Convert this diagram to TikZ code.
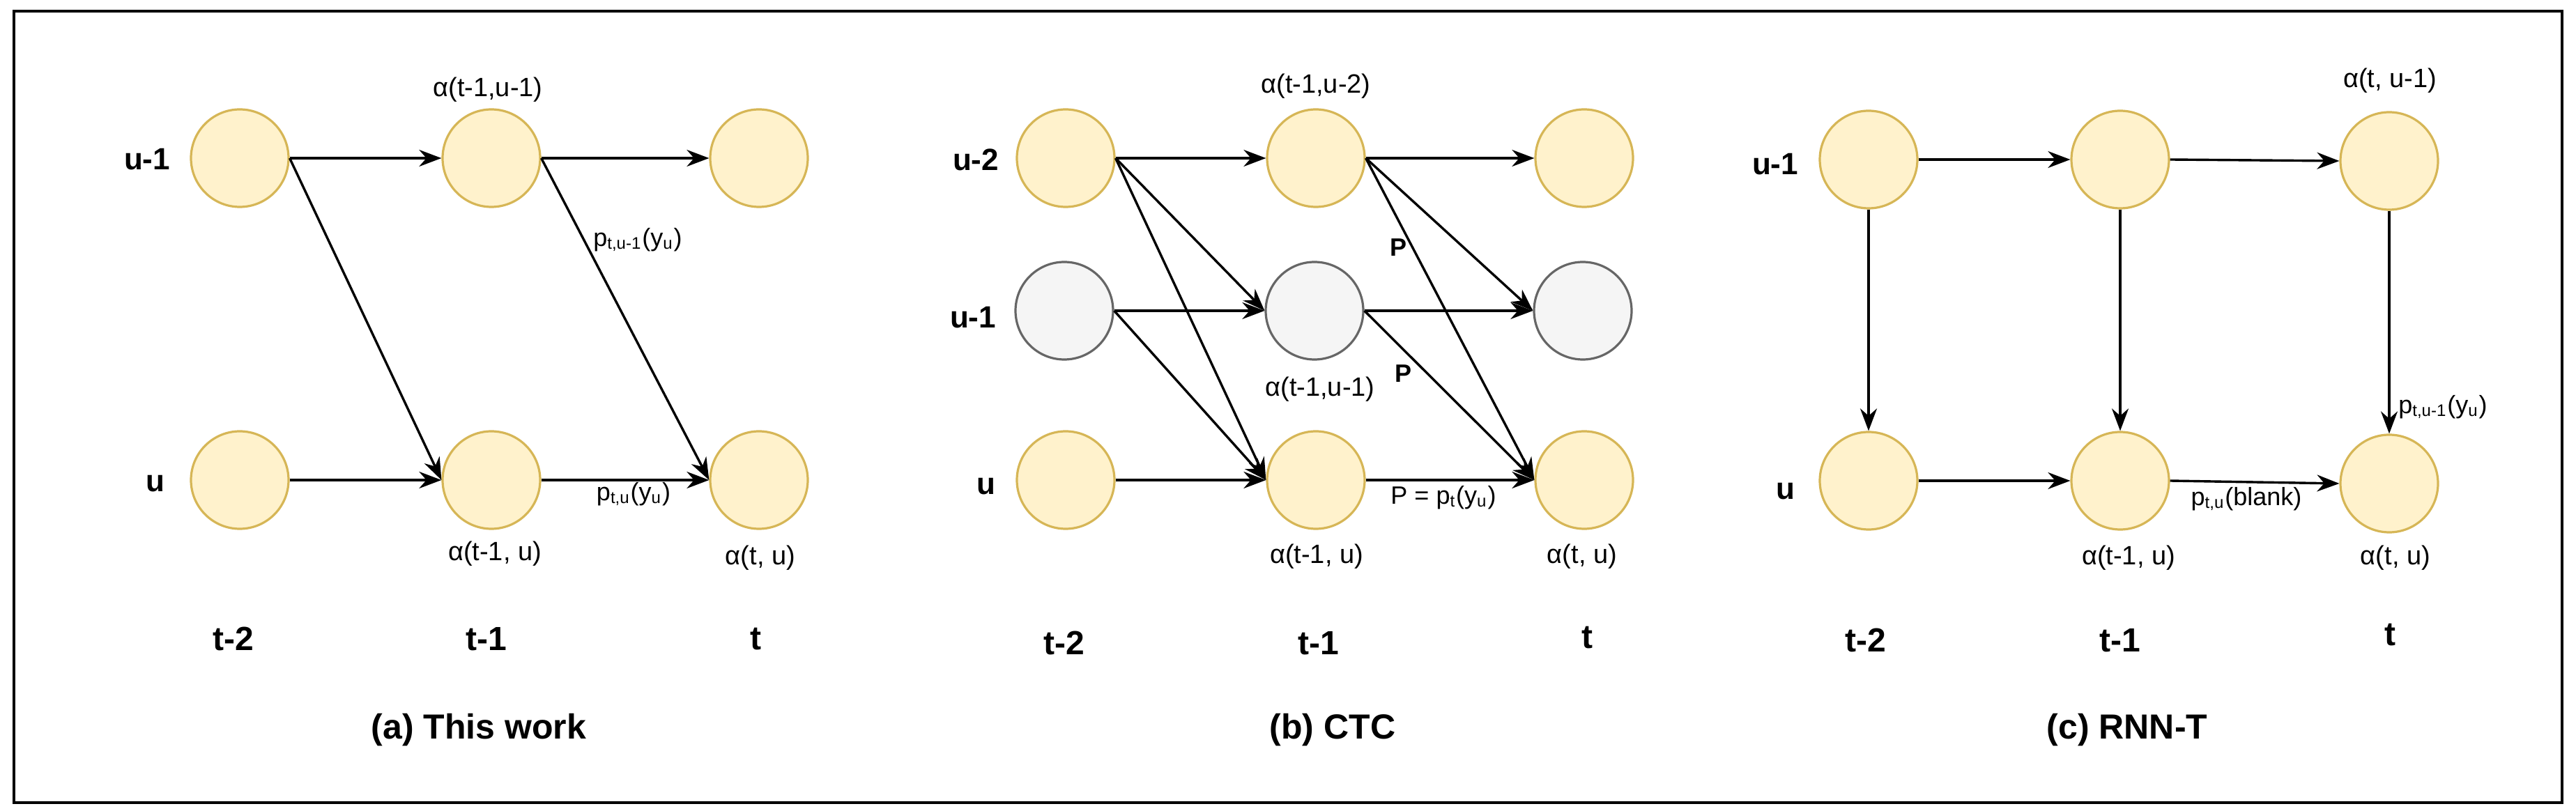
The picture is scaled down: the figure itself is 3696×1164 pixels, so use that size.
\documentclass[tikz,border=0pt]{standalone}
\usepackage{fontspec}
\setmainfont{Liberation Sans}
\usetikzlibrary{arrows.meta}
\definecolor{yfill}{HTML}{FFF2CC}\definecolor{ydraw}{HTML}{D6B656}
\definecolor{gfill}{HTML}{F5F5F5}\definecolor{gdraw}{HTML}{666666}
\begin{document}
\begin{tikzpicture}[x=0.25pt,y=-0.25pt,
 st/.style={circle,minimum size=35pt,inner sep=0,line width=0.8pt,draw=ydraw,fill=yfill},
 gr/.style={circle,minimum size=35pt,inner sep=0,line width=0.8pt,draw=gdraw,fill=gfill},
 ar/.style={-{Stealth[length=8pt,width=6pt]},line width=0.85pt},
 rl/.style={font=\bfseries\fontsize{11}{13}\selectfont},
 tl/.style={font=\bfseries\fontsize{12}{14}\selectfont},
 al/.style={font=\fontsize{9.5}{11}\selectfont},
 el/.style={font=\fontsize{9}{11}\selectfont,inner sep=0},
 ttl/.style={font=\bfseries\fontsize{12.5}{15}\selectfont}]
\useasboundingbox (0,0) rectangle (3696,1164);
\draw[line width=1pt] (20,16) rectangle (3676,1152);
% panel a
\node[st] (a11) at (344,227) {}; \node[st] (a12) at (705,227) {}; \node[st] (a13) at (1089,227) {};
\node[st] (a21) at (344,689) {}; \node[st] (a22) at (705,689) {}; \node[st] (a23) at (1089,689) {};
\draw[ar] (a11.east) -- (a12.west); \draw[ar] (a12.east) -- (a13.west);
\draw[ar] (a21.east) -- (a22.west); \draw[ar] (a22.east) -- (a23.west);
\draw[ar] (a11.east) -- (a22.west); \draw[ar] (a12.east) -- (a23.west);
\node[rl] (ar1) at (211,229) {u-1}; \node[rl] (ar2) at (223,694) {u};
\node[al] (aa1) at (700,129) {α(t-1,u-1)}; \node[al] (aa2) at (710,795) {α(t-1, u)}; \node[al] (aa3) at (1091,801) {α(t, u)};
\node[el] (ae1) at (915,344) {p\textsubscript{t,u-1}(y\textsubscript{u})};
\node[el] (ae2) at (909,709) {p\textsubscript{t,u}(y\textsubscript{u})};
\node[tl] (at1) at (335,917) {t-2}; \node[tl] (at2) at (698,917) {t-1}; \node[tl] (at3) at (1084,917) {t};
\node[ttl] (att) at (687,1048) {(a) This work};
% panel b
\node[st] (b11) at (1529,227) {}; \node[st] (b12) at (1888,227) {}; \node[st] (b13) at (2273,227) {};
\node[gr] (b21) at (1527,446) {}; \node[gr] (b22) at (1886,446) {}; \node[gr] (b23) at (2271,446) {};
\node[st] (b31) at (1529,689) {}; \node[st] (b32) at (1888,689) {}; \node[st] (b33) at (2273,689) {};
\foreach \s/\t in {11/12,11/22,11/32,21/22,21/32,31/32,12/13,12/23,12/33,22/23,22/33,32/33}
  \draw[ar] (b\s.east) -- (b\t.west);
\node[rl] (br1) at (1400,229) {u-2}; \node[rl] (br2) at (1396,456) {u-1}; \node[rl] (br3) at (1415,698) {u};
\node[al] (ba1) at (1888,124) {α(t-1,u-2)}; \node[al] (ba2) at (1894,559) {α(t-1,u-1)};
\node[al] (ba3) at (1889,799) {α(t-1, u)}; \node[al] (ba4) at (2270,799) {α(t, u)};
\node[el,font=\bfseries\fontsize{9}{11}\selectfont] (be1) at (2006,355) {P};
\node[el,font=\bfseries\fontsize{9}{11}\selectfont] (be2) at (2013,536) {P};
\node[el] (be3) at (2071,714) {P = p\textsubscript{t}(y\textsubscript{u})};
\node[tl] (bt1) at (1527,923) {t-2}; \node[tl] (bt2) at (1892,923) {t-1}; \node[tl] (bt3) at (2277,915) {t};
\node[ttl] (btt) at (1912,1048) {(b) CTC};
% panel c
\node[st] (c11) at (2681,229) {}; \node[st] (c12) at (3042,229) {}; \node[st] (c13) at (3428,231) {};
\node[st] (c21) at (2681,690) {}; \node[st] (c22) at (3042,690) {}; \node[st] (c23) at (3428,694) {};
\draw[ar] (c11.east) -- (c12.west); \draw[ar] (c12.east) -- (c13.west);
\draw[ar] (c21.east) -- (c22.west); \draw[ar] (c22.east) -- (c23.west);
\draw[ar] (c11.south) -- (c21.north); \draw[ar] (c12.south) -- (c22.north); \draw[ar] (c13.south) -- (c23.north);
\node[rl] (cr1) at (2547,236) {u-1}; \node[rl] (cr2) at (2562,705) {u};
\node[al] (ca1) at (3429,116) {α(t, u-1)}; \node[al] (ca2) at (3054,801) {α(t-1, u)}; \node[al] (ca3) at (3437,801) {α(t, u)};
\node[el] (ce1) at (3505,584) {p\textsubscript{t,u-1}(y\textsubscript{u})};
\node[el] (ce2) at (3223,716) {p\textsubscript{t,u}(blank)};
\node[tl] (ct1) at (2677,919) {t-2}; \node[tl] (ct2) at (3042,919) {t-1}; \node[tl] (ct3) at (3429,911) {t};
\node[ttl] (ctt) at (3052,1048) {(c) RNN-T};
\end{tikzpicture}
\end{document}
